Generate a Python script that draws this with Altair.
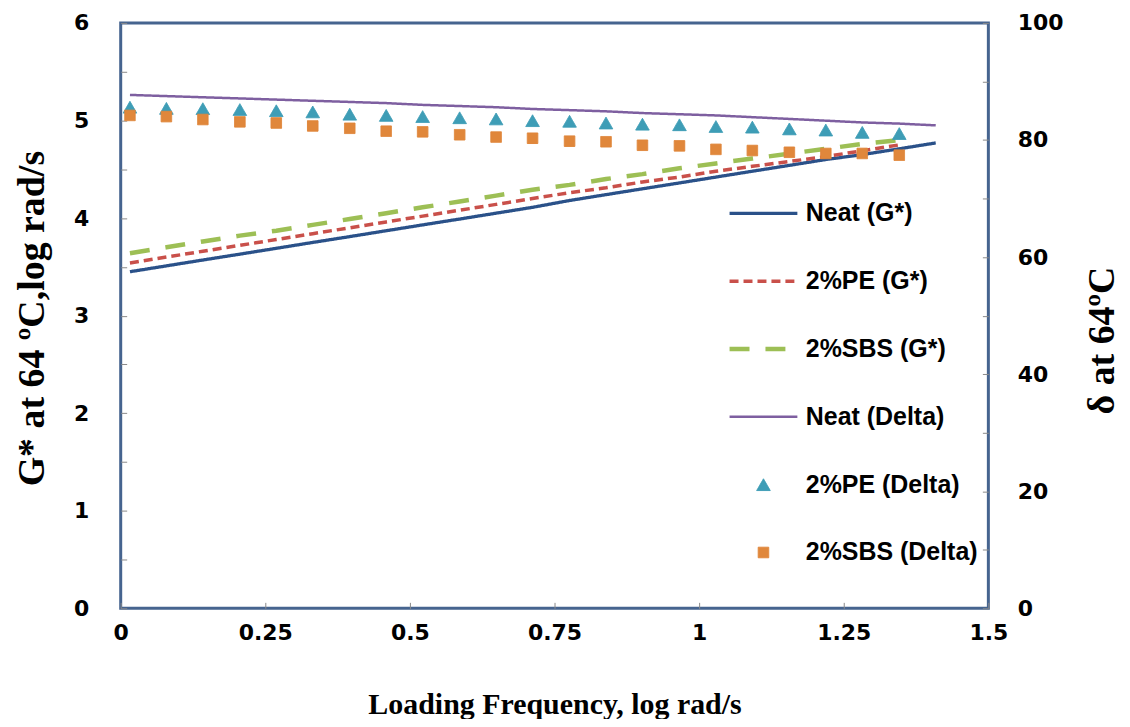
import altair as alt
import pandas as pd

# ---- data ----
freq = [0.016, 0.079, 0.142, 0.206, 0.269, 0.332, 0.396, 0.459, 0.522, 0.586, 0.649, 0.712,
        0.776, 0.839, 0.902, 0.966, 1.029, 1.092, 1.156, 1.219, 1.282, 1.346, 1.409]

neat_g = [3.45, 3.51, 3.57, 3.63, 3.69, 3.75, 3.81, 3.87, 3.93, 3.99, 4.05, 4.11,
          4.18, 4.24, 4.30, 4.36, 4.42, 4.48, 4.54, 4.60, 4.65, 4.71, 4.77]
pe_g = [3.54, 3.60, 3.66, 3.72, 3.78, 3.84, 3.90, 3.96, 4.02, 4.08, 4.14, 4.20,
        4.26, 4.31, 4.37, 4.42, 4.48, 4.53, 4.58, 4.63, 4.69, 4.75]
sbs_g = [3.64, 3.70, 3.76, 3.82, 3.87, 3.93, 3.99, 4.05, 4.11, 4.17, 4.23, 4.29,
         4.34, 4.40, 4.45, 4.51, 4.56, 4.61, 4.66, 4.71, 4.76, 4.80]
neat_d = [87.7, 87.5, 87.3, 87.1, 86.9, 86.7, 86.5, 86.3, 86.0, 85.8, 85.6, 85.3,
          85.1, 84.9, 84.6, 84.4, 84.2, 83.9, 83.6, 83.3, 83.0, 82.8, 82.5]
pe_d = [85.6, 85.4, 85.35, 85.2, 85.0, 84.8, 84.4, 84.2, 84.0, 83.8, 83.6, 83.3,
        83.2, 82.9, 82.7, 82.6, 82.3, 82.2, 81.9, 81.7, 81.3, 81.1]
sbs_d = [84.2, 84.0, 83.5, 83.1, 82.9, 82.4, 82.0, 81.5, 81.4, 80.9, 80.5, 80.3,
         79.8, 79.7, 79.1, 79.0, 78.4, 78.2, 77.9, 77.7, 77.7, 77.4]

series_names = ["Neat (G*)", "2%PE (G*)", "2%SBS (G*)",
                "Neat (Delta)", "2%PE (Delta)", "2%SBS (Delta)"]
x_ticks = [0, 0.25, 0.5, 0.75, 1, 1.25, 1.5]
left_ticks = [0, 0.5, 1, 1.5, 2, 2.5, 3, 3.5, 4, 4.5, 5, 5.5, 6]
right_ticks = [0, 10, 20, 30, 40, 50, 60, 70, 80, 90, 100]

rows = []
for name, vals in zip(series_names, [neat_g, pe_g, sbs_g, neat_d, pe_d, sbs_d]):
    for f, v in zip(freq, vals):
        rows.append({"freq": f, "value": v, "series": name})
df = pd.DataFrame(rows)

# ---- styles ----
colors = ["#2A5189", "#C9504A", "#9DBF55", "#7E5FA0", "#3E9DB6", "#E0873B"]
dashes = [[1, 0], [9, 5], [20, 16], [1, 0], [1, 0], [1, 0]]
shapes = ["stroke", "stroke", "stroke", "stroke", "triangle-up", "square"]
sizes = [4624, 4624, 4624, 4624, 185, 112]
widths = [3.3, 3.5, 4.5, 2.5, 1, 1]

TICK_FONT = "DejaVu Sans"
TITLE_FONT = "Liberation Serif"

x_axis = alt.Axis(orient="bottom", offset=-6, tickSize=6, domain=False, grid=False,
                  values=x_ticks, labelExpr="toString(datum.value)",
                  labelFlush=False, labelOverlap=False, labelBaseline="middle",
                  labelPadding=24, labelFont=TICK_FONT, labelFontSize=22,
                  labelFontWeight="bold", labelColor="black",
                  tickColor="#8a8a8a", tickWidth=1,
                  title="Loading Frequency, log rad/s", titleFont=TITLE_FONT,
                  titleFontSize=30, titleFontWeight="bold", titleColor="black",
                  titleBaseline="middle", titleY=102)

left_axis = alt.Axis(orient="left", offset=-6, tickSize=6, domain=False, grid=False,
                     values=left_ticks,
                     labelExpr="datum.value % 1 == 0 ? toString(datum.value) : ''",
                     labelOverlap=False, labelFlush=False, labelPadding=32,
                     labelFont=TICK_FONT, labelFontSize=22, labelFontWeight="bold",
                     labelColor="black", tickColor="#8a8a8a", tickWidth=1,
                     title="G* at 64 ºC,log rad/s", titleFont=TITLE_FONT,
                     titleFontSize=38, titleFontWeight="bold", titleColor="black",
                     titleAngle=270, titleBaseline="middle", titleAlign="center",
                     titleX=-94, titleY=296)

right_axis = alt.Axis(orient="right", offset=-6, tickSize=6, domain=False, grid=False,
                      values=right_ticks,
                      labelExpr="datum.value % 20 == 0 ? toString(datum.value) : ''",
                      labelOverlap=False, labelFlush=False, labelPadding=29,
                      labelFont=TICK_FONT, labelFontSize=22, labelFontWeight="bold",
                      labelColor="black", tickColor="#8a8a8a", tickWidth=1,
                      title="δ at 64ºC", titleFont=TITLE_FONT,
                      titleFontSize=38, titleFontWeight="bold", titleColor="black",
                      titleAngle=270, titleBaseline="middle", titleAlign="center",
                      titleX=120, titleY=318)

X = alt.X("freq:Q", scale=alt.Scale(domain=[0, 1.5], nice=False, zero=False), axis=x_axis)
g_scale = alt.Scale(domain=[0, 6], nice=False, zero=False)
d_scale = alt.Scale(domain=[0, 100], nice=False, zero=False)

base = alt.Chart(df)


def line_layer(idx, yscale, axis):
    return base.transform_filter(alt.datum.series == series_names[idx]).mark_line(
        color=colors[idx], strokeDash=dashes[idx], strokeWidth=widths[idx]
    ).encode(x=X, y=alt.Y("value:Q", scale=yscale, axis=axis))


legend = alt.Legend(title=None, orient="none", legendX=608, legendY=157,
                    direction="vertical", clipHeight=68, rowPadding=0, padding=0,
                    labelOffset=6, labelFont="Liberation Sans", labelFontSize=25,
                    labelFontWeight="bold", labelColor="black", labelLimit=400,
                    symbolFillColor="transparent")

points = base.transform_filter(
    alt.FieldOneOfPredicate(field="series", oneOf=series_names[4:])
).mark_point(filled=True, opacity=1).encode(
    x=X,
    y=alt.Y("value:Q", scale=d_scale, axis=None),
    fill=alt.Fill("series:N", scale=alt.Scale(domain=series_names, range=colors), legend=legend),
    stroke=alt.Stroke("series:N", scale=alt.Scale(domain=series_names, range=colors), legend=legend),
    shape=alt.Shape("series:N", scale=alt.Scale(domain=series_names, range=shapes), legend=legend),
    size=alt.Size("series:N", scale=alt.Scale(type="ordinal", domain=series_names, range=sizes), legend=legend),
    strokeDash=alt.StrokeDash("series:N", scale=alt.Scale(domain=series_names, range=dashes), legend=legend),
    strokeWidth=alt.StrokeWidth("series:N", scale=alt.Scale(type="ordinal", domain=series_names, range=widths), legend=legend),
)

chart = alt.layer(
    line_layer(0, g_scale, left_axis),
    line_layer(1, g_scale, None),
    line_layer(2, g_scale, None),
    line_layer(3, d_scale, right_axis),
    points,
).resolve_scale(y="independent").properties(
    width=870, height=587,
    autosize=alt.AutoSizeParams(type="none"),
    padding={"left": 113, "top": 14, "right": 134, "bottom": 110},
    background="white",
).configure_view(stroke="#46648F", strokeWidth=3)

chart.save("out.html", embed_options={"renderer": "svg", "actions": False})
